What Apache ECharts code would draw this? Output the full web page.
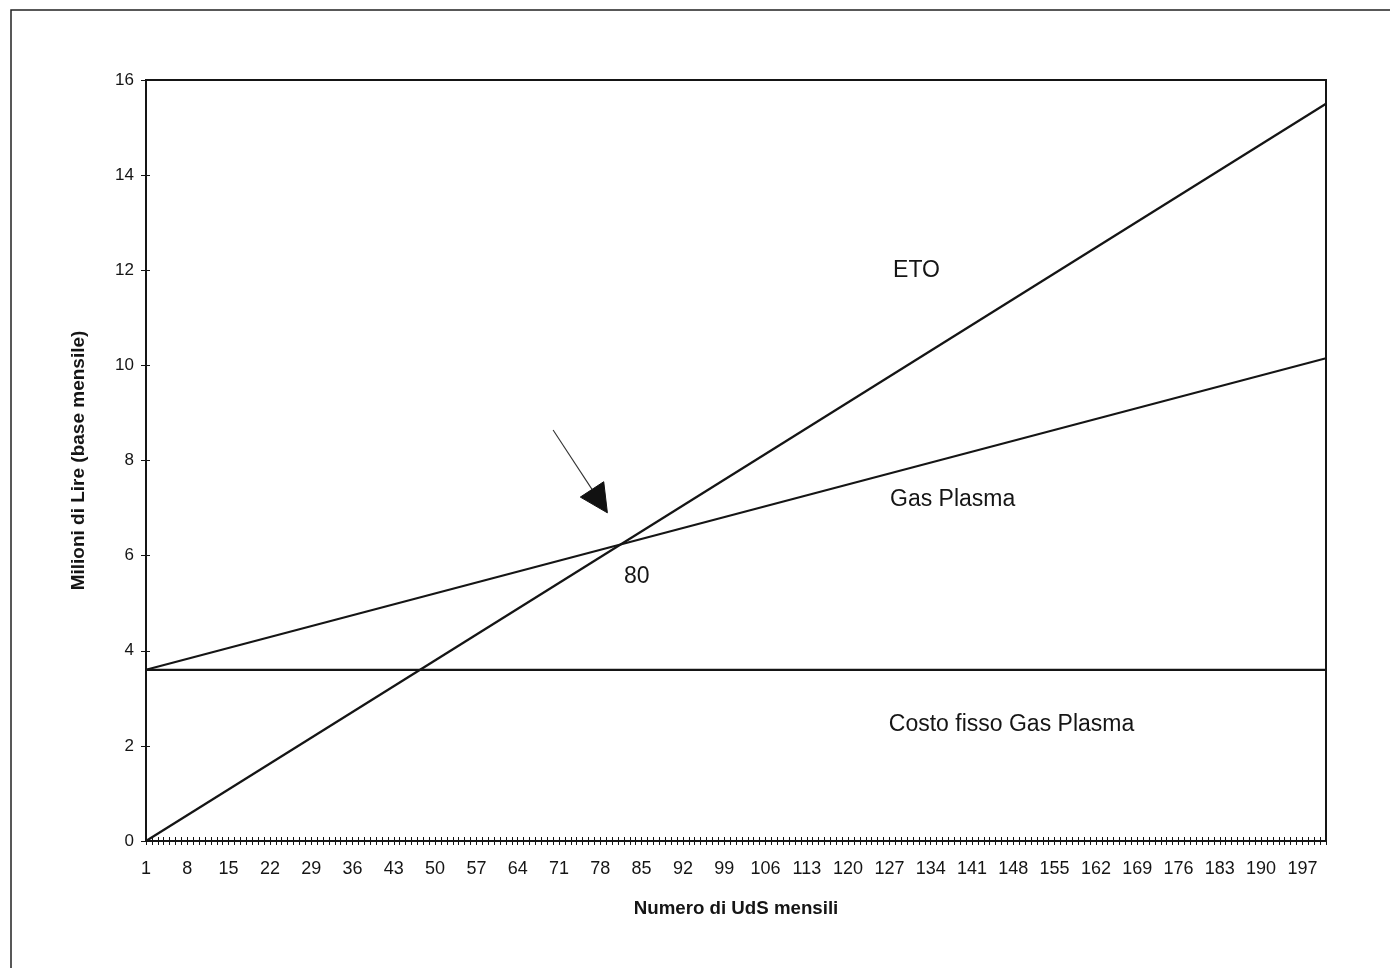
<!DOCTYPE html>
<html>
<head>
<meta charset="utf-8">
<title>Costi mensili: ETO e Gas Plasma</title>
<script src="https://cdn.jsdelivr.net/npm/echarts@6/dist/echarts.min.js"></script>
<style>
  html, body { margin: 0; padding: 0; background: #fff; }
  #chart { width: 1390px; height: 968px; }
</style>
</head>
<body>
<div id="chart"></div>
<script>
// Monthly sterilisation units (UdS): categories 1 … 201
const unitCount = 201;
const categories = Array.from({ length: unitCount }, (_, i) => String(i + 1));

// Y-axis scale (millions of lire, monthly)
const yMin = 0;
const yMax = 16;
const yStep = 2;

// Cost lines, as [units, millions of lire] end points
const etoCost = [['1', 0], ['201', 15.5]];
const plasmaCost = [['1', 3.6], ['201', 10.15]];
const plasmaFixedCost = [['1', 3.6], ['201', 3.6]];

// Break-even annotation
const breakEvenUnits = 80;
const arrowFrom = [70.0, 8.64];
const arrowTo = [79.2, 6.9];

// Line labels: [text, units, value, anchor]
const lineLabels = [
  ['ETO', 131.6, 12.0, 'center'],
  ['Gas Plasma', 127.1, 7.17, 'left'],
  ['Costo fisso Gas Plasma', 126.9, 2.44, 'left'],
  [String(breakEvenUnits), 82.0, 5.55, 'left']
];

const ink = '#151515';
const font = '"Liberation Sans", Arial, sans-serif';

const chart = echarts.init(document.getElementById('chart'), null, { renderer: 'canvas' });

const lineStyle = { color: ink, width: 2.2 };
function costSeries(name, data) {
  return {
    name: name,
    type: 'line',
    data: data,
    xAxisIndex: 0,
    yAxisIndex: 0,
    symbol: 'none',
    lineStyle: lineStyle,
    animation: false,
    silent: true
  };
}

chart.setOption({
  animation: false,
  backgroundColor: '#fff',
  textStyle: { fontFamily: font, color: ink },
  grid: {
    left: 146,
    right: 64,
    top: 80,
    bottom: 127,
    show: true,
    borderColor: ink,
    borderWidth: 2,
    backgroundColor: 'transparent'
  },
  xAxis: [
    {
      type: 'category',
      data: categories,
      boundaryGap: false,
      position: 'bottom',
      name: 'Numero di UdS mensili',
      nameLocation: 'middle',
      nameGap: 58,
      nameTextStyle: { fontFamily: font, fontWeight: 'bold', fontSize: 18.7, color: ink },
      axisLine: { lineStyle: { color: ink, width: 2 } },
      axisTick: { show: true, interval: 0, inside: false, length: 4, lineStyle: { color: ink, width: 1 } },
      axisLabel: { interval: 6, margin: 19, fontFamily: font, fontSize: 18, color: ink },
      splitLine: { show: false }
    },
    {
      // inward half of the crossing tick marks
      type: 'category',
      data: categories,
      boundaryGap: false,
      position: 'bottom',
      axisLine: { show: false },
      axisTick: { show: true, interval: 0, inside: true, length: 4, lineStyle: { color: ink, width: 1 } },
      axisLabel: { show: false },
      splitLine: { show: false }
    },
    {
      // numeric twin of the unit axis, used to place annotations
      type: 'value',
      min: 1,
      max: unitCount,
      show: false
    }
  ],
  yAxis: [
    {
      type: 'value',
      min: yMin,
      max: yMax,
      interval: yStep,
      position: 'left',
      name: 'Milioni di Lire (base mensile)',
      nameLocation: 'middle',
      nameRotate: 90,
      nameGap: 58,
      nameTextStyle: { fontFamily: font, fontWeight: 'bold', fontSize: 19, color: ink },
      axisLine: { show: true, lineStyle: { color: ink, width: 2 } },
      axisTick: { show: true, inside: false, length: 5, lineStyle: { color: ink, width: 1 } },
      axisLabel: { margin: 12, fontFamily: font, fontSize: 17, color: ink },
      splitLine: { show: false }
    },
    {
      type: 'value',
      min: yMin,
      max: yMax,
      interval: yStep,
      position: 'left',
      axisLine: { show: false },
      axisTick: { show: true, inside: true, length: 4, lineStyle: { color: ink, width: 1 } },
      axisLabel: { show: false },
      splitLine: { show: false }
    }
  ],
  series: [
    costSeries('ETO', etoCost),
    costSeries('Gas Plasma', plasmaCost),
    costSeries('Costo fisso Gas Plasma', plasmaFixedCost)
  ]
});

// Annotations placed through the chart's own coordinate system
function toPx(p) {
  return chart.convertToPixel({ xAxisIndex: 2, yAxisIndex: 0 }, p);
}

const graphics = [];

// outer frame of the figure
graphics.push({
  type: 'rect',
  shape: { x: 11, y: 10, width: 1450, height: 1050 },
  style: { fill: 'none', stroke: '#222', lineWidth: 1.5 },
  silent: true,
  z: 0
});

// break-even arrow
const tail = toPx(arrowFrom);
const tip = toPx(arrowTo);
const dx = tip[0] - tail[0];
const dy = tip[1] - tail[1];
const len = Math.sqrt(dx * dx + dy * dy);
const ux = dx / len, uy = dy / len;
const headLen = 28, headHalf = 14;
const base = [tip[0] - ux * headLen, tip[1] - uy * headLen];
graphics.push({
  type: 'line',
  shape: { x1: tail[0], y1: tail[1], x2: base[0], y2: base[1] },
  style: { stroke: '#333', lineWidth: 1.1 },
  silent: true,
  z: 10
});
graphics.push({
  type: 'polygon',
  shape: {
    points: [
      tip,
      [base[0] - uy * headHalf, base[1] + ux * headHalf],
      [base[0] + uy * headHalf, base[1] - ux * headHalf]
    ]
  },
  style: { fill: '#111', stroke: '#111', lineWidth: 1 },
  silent: true,
  z: 10
});

lineLabels.forEach(function (lbl) {
  const p = toPx([lbl[1], lbl[2]]);
  graphics.push({
    type: 'text',
    x: p[0],
    y: p[1],
    style: {
      text: lbl[0],
      fontFamily: font,
      fontSize: 23,
      fill: ink,
      align: lbl[3],
      verticalAlign: 'middle'
    },
    silent: true,
    z: 10
  });
});

chart.setOption({ graphic: graphics });
</script>
</body>
</html>
